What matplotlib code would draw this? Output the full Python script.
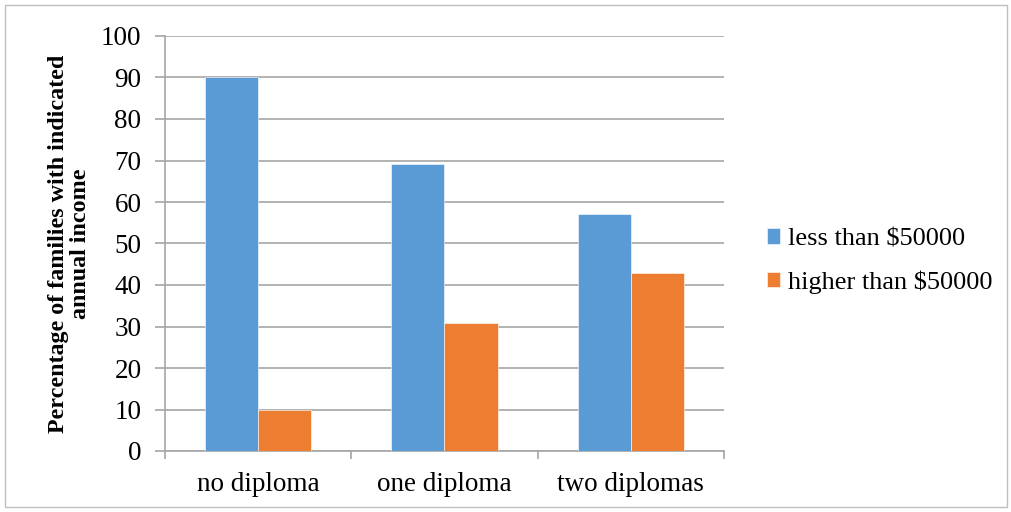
import matplotlib
matplotlib.use('Agg')
import matplotlib.pyplot as plt
import numpy as np
from matplotlib.patches import Rectangle

plt.rcParams['font.family'] = ['Liberation Serif', 'DejaVu Serif']

categories = ['no diploma', 'one diploma', 'two diplomas']
series_names = ['less than $50000', 'higher than $50000']
less_than = [90.0, 69.2, 57.1]
higher_than = [10.0, 30.8, 42.9]
colors = ['#5B9BD5', '#ED7D31']
grid_color = '#A6A6A6'


def main():
    fig = plt.figure(figsize=(10.12, 5.12), dpi=100)
    ax = fig.add_axes([165 / 1012, 1 - 451 / 512, (724 - 165) / 1012, (451 - 36) / 512])

    # 外框
    fig.patches.append(Rectangle((5 / 1012, 5 / 512), 1002 / 1012, 502 / 512,
                                 transform=fig.transFigure, fill=False,
                                 edgecolor='#BFBFBF', linewidth=1))

    x = np.arange(len(categories))
    w = 1 / 3.5
    ax.bar(x - w / 2, less_than, w, color=colors[0], label=series_names[0],
           edgecolor='white', linewidth=0.4, zorder=3)
    ax.bar(x + w / 2, higher_than, w, color=colors[1], label=series_names[1],
           edgecolor='white', linewidth=0.4, zorder=3)

    ax.set_xlim(-0.5, 2.5)
    ax.set_ylim(0, 100)
    ax.set_yticks(range(0, 101, 10))
    ax.yaxis.grid(True, color=grid_color, linewidth=1.2, zorder=0)
    ax.set_axisbelow(True)

    for s in ['top', 'right']:
        ax.spines[s].set_visible(False)
    for s in ['left', 'bottom']:
        ax.spines[s].set_color(grid_color)
        ax.spines[s].set_linewidth(1.2)

    ax.tick_params(axis='y', length=7, color=grid_color, width=1.2, labelsize=19.5, pad=10)
    ax.set_xticks(x)
    ax.set_xticklabels(categories, fontsize=19.5)
    ax.tick_params(axis='x', length=0, pad=15)
    ax.set_xticks([-0.5, 0.5, 1.5, 2.5], minor=True)
    ax.tick_params(axis='x', which='minor', length=5.5, color=grid_color, width=1.2)

    ax.set_ylabel('Percentage of families with indicated\nannual income',
                  fontsize=17.3, fontweight='bold', labelpad=7, linespacing=1.1)

    fig.legend(loc='center left', bbox_to_anchor=(767 / 1012, 1 - 261 / 512),
               frameon=False, fontsize=19, handlelength=0.5, handleheight=0.5,
               handletextpad=0.3, labelspacing=0.75, borderpad=0, borderaxespad=0)

    fig.savefig('out.png', dpi=100)


if __name__ == '__main__':
    main()
